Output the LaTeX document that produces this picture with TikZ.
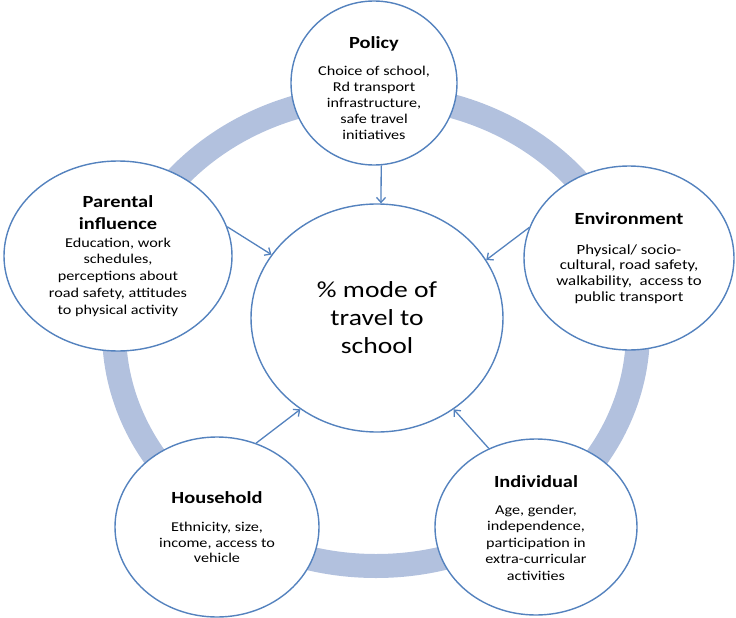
\documentclass[tikz,border=0pt]{standalone}
\usepackage{fontspec}
\setmainfont{Carlito}[FakeStretch=1.2]
\usetikzlibrary{shapes.geometric,arrows.meta}
\definecolor{ringblue}{RGB}{178,193,222}
\definecolor{edgeblue}{RGB}{84,130,190}
\newcommand{\ttlfont}[1]{{\fontsize{17}{20}\selectfont\bfseries #1}}
\tikzset{
  bubble/.style={ellipse, draw=edgeblue, line width=1.4pt, fill=white, inner sep=0pt},
  txt/.style={align=center, font=\fontsize{13.5}{16}\selectfont, text=black, inner sep=0pt},
  bigtxt/.style={align=center, font=\fontsize{23}{28}\selectfont, text=black, inner sep=0pt},
  link/.style={draw=edgeblue, line width=1.3pt, -{Straight Barb[length=5pt,width=9pt]}}
}
\begin{document}
\begin{tikzpicture}[x=1pt,y=-1pt]
\useasboundingbox (0,0) rectangle (736,618);
% ring
\draw[ringblue, line width=24pt] (376,331) ellipse [x radius=262, y radius=235];
% centre
\node[bubble, minimum width=252, minimum height=228,
  label={[bigtxt]center:{\% mode of\\ travel to\\ school}}] (ctr) at (377,318) {};
% outer nodes
\node[bubble, minimum width=166, minimum height=164,
  label={[txt,yshift=-5pt]center:{\ttlfont{Policy}\\[11pt] Choice of school,\\ Rd transport\\ infrastructure,\\ safe travel\\ initiatives}}] (pol) at (374,83) {};
\node[bubble, minimum width=228, minimum height=190,
  label={[txt,font=\fontsize{13.5}{16.8}\selectfont]center:{\ttlfont{Parental}\\[5pt]\ttlfont{influence}\\[1pt] Education, work\\ schedules,\\ perceptions about\\ road safety, attitudes\\ to physical activity}}] (par) at (118,256) {};
\node[bubble, minimum width=210, minimum height=184,
  label={[txt,font=\fontsize{14}{15.7}\selectfont]center:{\ttlfont{Environment}\\[14pt] Physical/ socio-\\ cultural, road safety,\\ walkability,\ \ access to\\ public transport}}] (env) at (629,258) {};
\node[bubble, minimum width=204, minimum height=180,
  label={[txt,font=\fontsize{13.5}{15.6}\selectfont]center:{\ttlfont{Household}\\[13pt] Ethnicity, size,\\ income, access to\\ vehicle}}] (hh) at (217,527) {};
\node[bubble, minimum width=202, minimum height=176,
  label={[txt,font=\fontsize{13.5}{16.6}\selectfont,yshift=-1pt]center:{\ttlfont{Individual}\\[10pt] Age, gender,\\ independence,\\ participation in\\ extra-curricular\\ activities}}] (ind) at (536,527) {};
% arrows
\draw[link] (pol.275) -- (ctr.88);
\draw[link] (par.15) -- (ctr.149);
\draw[link] (env.163) -- (ctr.28);
\draw[link] (hh.65) -- (ctr.230);
\draw[link] (ind.121) -- (ctr.310);
\end{tikzpicture}
\end{document}
